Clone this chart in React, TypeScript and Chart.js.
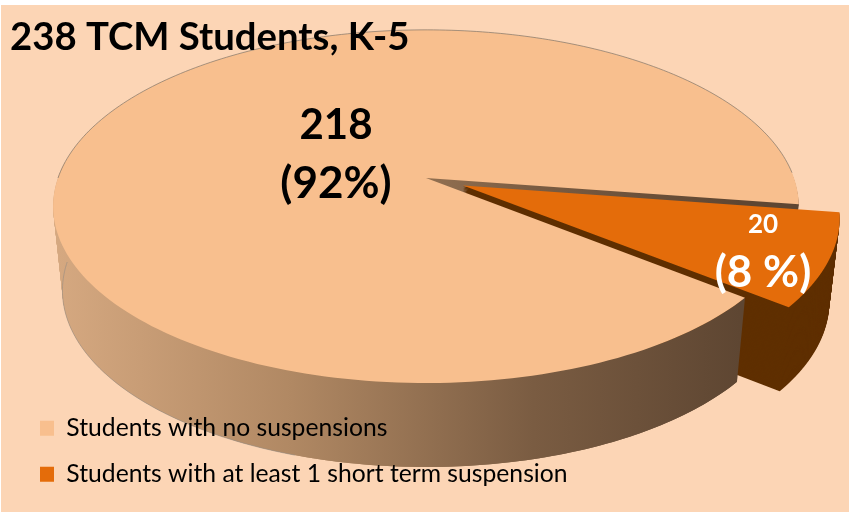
import React, { useEffect, useRef } from "react";
import { Chart, registerables } from "chart.js";

Chart.register(...registerables);

const titleText = "238 TCM Students, K-5";
const categories = ["Students with no suspensions", "Students with at least 1 short term suspension"];
const counts = [218, 20];
const countLabels = ["218", "20"];
const percentLabels = ["(92%)", "(8 %)"];
const faceColors = ["#F8BF8E", "#E46C0A"];

const PAGE_BG = "#FCD5B5";
const CX = 426, CY = 178, RX = 368, RY = 172, PERSPECTIVE = 0.161;
const DEPTH = 84, TAPER = 0.025;
const STEPS = 70;
const LEGEND_PAD = 21.3;
const LEGEND_X = 40;

const project = (u: number, v: number, t = 0) => {
  const w = 1 - PERSPECTIVE * v;
  const x = CX + (RX * u) / w;
  const y = CY + (RY * v) / w;
  return { x: CX + (x - CX) * (1 - TAPER * t), y: y + DEPTH * t };
};

const arcFrame = (arc: any) => {
  const R = arc.outerRadius;
  const mid = (arc.startAngle + arc.endAngle) / 2;
  const off = (arc.options.offset || 0) / R;
  return { a0: arc.startAngle, a1: arc.endAngle, du: off * Math.cos(mid), dv: off * Math.sin(mid) };
};

const tracePie = (ctx: CanvasRenderingContext2D, arc: any, t: number) => {
  const { a0, a1, du, dv } = arcFrame(arc);
  const n = 240;
  ctx.beginPath();
  const c = project(du, dv, t);
  ctx.moveTo(c.x, c.y);
  for (let i = 0; i <= n; i++) {
    const a = a0 + ((a1 - a0) * i) / n;
    const p = project(du + Math.cos(a), dv + Math.sin(a), t);
    ctx.lineTo(p.x, p.y);
  }
  ctx.closePath();
};

const strokeRim = (ctx: CanvasRenderingContext2D, from: number, to: number, t: number) => {
  const n = 160;
  ctx.beginPath();
  for (let i = 0; i <= n; i++) {
    const a = from + ((to - from) * i) / n;
    const p = project(Math.cos(a), Math.sin(a), t);
    if (i) ctx.lineTo(p.x, p.y);
    else ctx.moveTo(p.x, p.y);
  }
  ctx.stroke();
};

const pie3d = {
  id: "pie3d",
  afterLayout(chart: any) {
    chart.legend.left = LEGEND_X - LEGEND_PAD;
  },
  beforeDraw(chart: any) {
    const { ctx, width, height } = chart;
    ctx.save();
    ctx.fillStyle = "#FFFFFF";
    ctx.fillRect(0, 0, width, height);
    ctx.fillStyle = PAGE_BG;
    ctx.fillRect(1, 5, width - 1, height - 5);
    ctx.restore();
    // title and legend sit on top of the pie
    chart._layers.forEach((l: any) => (l.z = 1));
  },
  beforeDatasetDraw(chart: any, args: any) {
    const { ctx } = chart;
    const [main, slice] = args.meta.data;
    const wall = ctx.createLinearGradient(52, 0, 740, 0);
    wall.addColorStop(0, "#D6A981");
    wall.addColorStop(0.35, "#B08863");
    wall.addColorStop(0.7, "#7A5C42");
    wall.addColorStop(1, "#5E4632");

    ctx.save();
    ctx.fillStyle = wall;
    for (let i = STEPS; i > 0; i--) {
      tracePie(ctx, main, i / STEPS);
      ctx.fill();
    }
    ctx.fillStyle = "#5F2F00";
    for (let i = STEPS; i > 0; i--) {
      tracePie(ctx, slice, i / STEPS);
      ctx.fill();
    }

    // front rim of the larger slice passes in front of the smaller slice's side
    const { a0 } = arcFrame(main);
    const n = 160;
    const pts: number[] = [];
    for (let i = 0; i <= n; i++) pts.push(a0 + ((Math.PI * 1.03 - a0) * i) / n);
    ctx.beginPath();
    pts.forEach((a, i) => {
      const p = project(Math.cos(a), Math.sin(a), 0);
      if (i) ctx.lineTo(p.x, p.y);
      else ctx.moveTo(p.x, p.y);
    });
    [...pts].reverse().forEach((a) => {
      const p = project(Math.cos(a), Math.sin(a), 1);
      ctx.lineTo(p.x, p.y);
    });
    ctx.closePath();
    ctx.fillStyle = wall;
    ctx.fill();

    [main, slice].forEach((arc: any) => {
      tracePie(ctx, arc, 0);
      ctx.fillStyle = arc.options.backgroundColor;
      ctx.fill();
    });

    // thin outlines on the far rim and the lower left edge of the side
    ctx.lineWidth = 1;
    ctx.strokeStyle = "rgba(120,110,100,0.65)";
    strokeRim(ctx, Math.PI, Math.PI * 1.99, 0);
    ctx.strokeStyle = "rgba(150,140,130,0.6)";
    strokeRim(ctx, Math.PI * 0.6, Math.PI * 1.0, 1);
    ctx.restore();
    return false;
  },
  afterDatasetsDraw(chart: any) {
    const { ctx } = chart;
    const place = [
      { x: 336, y1: 125, y2: 184, f1: 42, f2: 44, color: "#000000" },
      { x: 763, y1: 225, y2: 273, f1: 26, f2: 44, color: "#FFFFFF" },
    ];
    ctx.save();
    ctx.textAlign = "center";
    ctx.textBaseline = "middle";
    place.forEach((p, i) => {
      ctx.fillStyle = p.color;
      ctx.font = `bold ${p.f1}px Lato`;
      ctx.fillText(countLabels[i], p.x, p.y1);
      ctx.font = `bold ${p.f2}px Lato`;
      ctx.fillText(percentLabels[i], p.x, p.y2);
    });
    ctx.restore();
  },
};

export default function App() {
  const ref = useRef<HTMLCanvasElement>(null);
  useEffect(() => {
    document.body.style.margin = "0";
    document.body.style.background = "#FFFFFF";
    const chart = new Chart(ref.current as HTMLCanvasElement, {
      type: "pie",
      data: {
        labels: categories,
        datasets: [
          {
            data: counts,
            backgroundColor: faceColors,
            borderWidth: 0,
            offset: [0, 14.5],
          },
        ],
      },
      options: {
        responsive: false,
        devicePixelRatio: 1,
        animation: false,
        rotation: 128.8,
        layout: { padding: { left: 10, top: 15, bottom: 4 } },
        plugins: {
          tooltip: { enabled: false },
          title: {
            display: true,
            text: titleText,
            align: "start",
            color: "#000000",
            font: { family: "Lato", size: 38.3, weight: "bold" },
            padding: { top: 0, bottom: 0 },
          },
          legend: {
            display: true,
            position: "left",
            align: "end",
            maxWidth: 600,
            labels: {
              boxWidth: 14,
              boxHeight: 15,
              padding: LEGEND_PAD,
              color: "#000000",
              font: { family: "Lato", size: 24.7 },
            },
          },
        },
      },
      plugins: [pie3d as any],
    });
    return () => chart.destroy();
  }, []);
  return <canvas ref={ref} width={849} height={512} style={{ display: "block" }} />;
}
